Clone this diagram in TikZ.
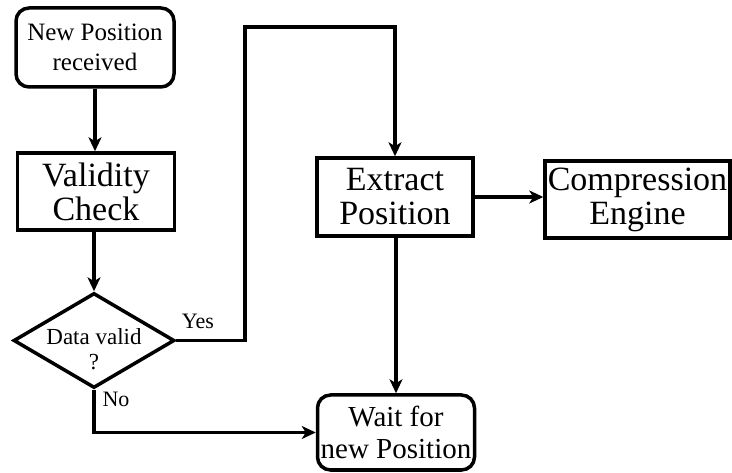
\documentclass[tikz,border=0pt]{standalone}
\usepackage{fontspec}
\setmainfont{Liberation Serif}
\usetikzlibrary{shapes.geometric,arrows.meta}
\begin{document}
\begin{tikzpicture}[x=1pt,y=-1pt,
  line width=3.5pt,
  box/.style={draw,line width=3.5pt,inner sep=0pt,align=center},
  rbox/.style={box,rounded corners=13pt},
  big/.style={font=\fontsize{34}{34}\selectfont},
  arr/.style={-{Stealth[length=14pt,width=13pt,inset=4pt]}},
  lbl/.style={font=\fontsize{22}{24}\selectfont,inner sep=0pt}]
\useasboundingbox (0,0) rectangle (732,473);
\node[rbox,minimum width=158pt,minimum height=79pt,font=\fontsize{25}{30}\selectfont] (np) at (95,47.5) {New Position\\received};
\node[box,big,minimum width=157pt,minimum height=77pt] (vc) at (96,191.5) {Validity\\Check};
\node[box,diamond,minimum width=161pt,minimum height=95pt] (dv) at (94,340.5) {};
\node[align=center,inner sep=0pt,font=\fontsize{23}{25}\selectfont] (dvt) at (94,349) {Data valid\\?};
\node[box,big,minimum width=156pt,minimum height=78pt] (ep) at (395,197) {Extract\\Position};
\node[box,big,minimum width=185pt,minimum height=77pt] (ce) at (637.5,199.5) {Compression\\Engine};
\node[rbox,minimum width=157pt,minimum height=75pt,font=\fontsize{29}{32}\selectfont] (wt) at (396,432.5) {Wait for\\new Position};
\coordinate (y1) at (245,340.5);
\coordinate (y2) at (245,27);
\draw[arr] (np.south) -- (np.south |- vc.north);
\draw[arr] (vc.south -| dv.north) -- (dv.north);
\draw[arr] (dv.east) -- (y1) -- (y2) -| (ep.north);
\draw[arr] (ep.east) -- (ep.east -| ce.west);
\draw[arr] (ep.south -| wt.north) -- (wt.north);
\draw[arr] (dv.south) |- (wt.west);
\node[lbl] (yes) at (198,321) {Yes};
\node[lbl] (no) at (116,399) {No};
\end{tikzpicture}
\end{document}
